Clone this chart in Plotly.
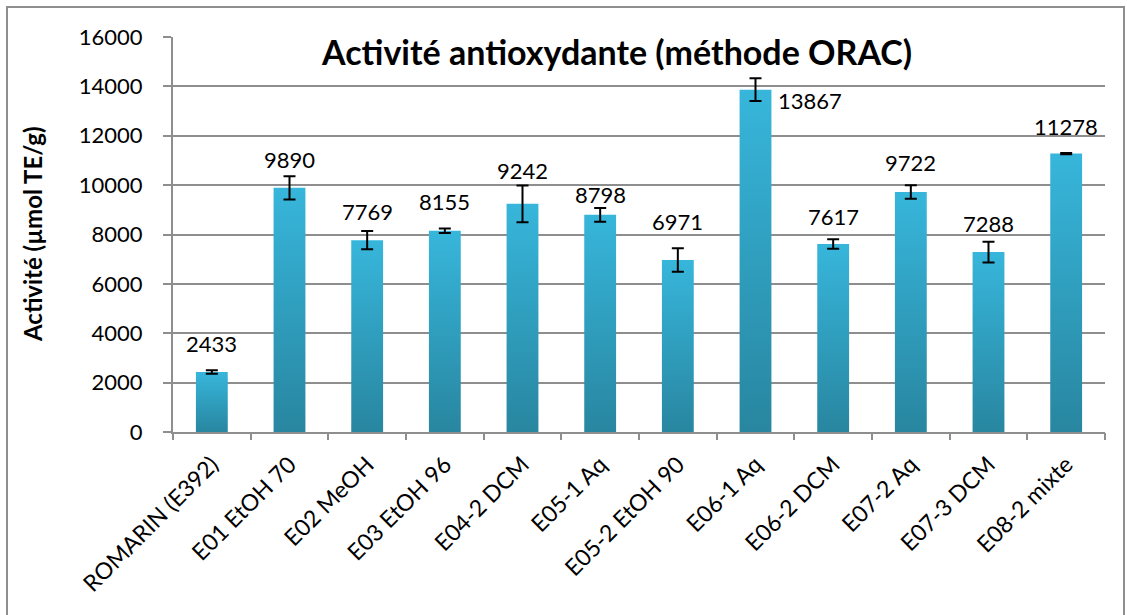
import plotly.graph_objects as go

# ORAC antioxidant activity per extract
categories = ["ROMARIN (E392)", "E01 EtOH 70", "E02 MeOH", "E03 EtOH 96", "E04-2 DCM",
              "E05-1 Aq", "E05-2 EtOH 90", "E06-1 Aq", "E06-2 DCM", "E07-2 Aq",
              "E07-3 DCM", "E08-2 mixte"]
activity = [2433, 9890, 7769, 8155, 9242, 8798, 6971, 13867, 7617, 9722, 7288, 11278]
errors = [70, 470, 370, 90, 745, 280, 475, 460, 190, 270, 420, 25]
y_ticks = [0, 2000, 4000, 6000, 8000, 10000, 12000, 14000, 16000]

FONT = "Lato"
GRID = "#8E8E8E"
BAR_W = 0.41

# plot-area geometry in pixels
L, R, T, B = 173, 1105, 37, 432
PW, PH = R - L, B - T

# vertical gap (px) between each bar top and the centre of its value label
label_gap = [28, 28, 29, 29, 33, 20, 38, -11, 27, 29, 29, 27]

fig = go.Figure()

# bars as gradient-filled polygons
for i, v in enumerate(activity):
    x0, x1 = i - BAR_W / 2, i + BAR_W / 2
    fig.add_trace(go.Scatter(
        x=[x0, x1, x1, x0, x0], y=[0, 0, v, v, 0],
        mode="lines", line=dict(width=0), fill="toself",
        fillgradient=dict(type="vertical",
                          colorscale=[[0, "#2886A0"], [1, "#37B6DB"]]),
        hoverinfo="skip", showlegend=False,
    ))

# error bars
fig.add_trace(go.Scatter(
    x=list(range(len(categories))), y=activity, mode="markers",
    marker=dict(size=1, opacity=0),
    error_y=dict(type="data", array=errors, visible=True,
                 color="black", thickness=2, width=6),
    showlegend=False,
))

# value labels
annotations = []
for i, v in enumerate(activity):
    side = i == activity.index(max(activity))
    annotations.append(dict(
        x=i + BAR_W / 2 if side else i, y=v, xref="x", yref="y",
        text=str(v), showarrow=False,
        xanchor="left" if side else "center", yanchor="middle",
        xshift=5 if side else 0, yshift=label_gap[i],
        font=dict(family=FONT, size=22, color="black")))

annotations.append(dict(x=(616 - L) / PW, y=(B - 52) / PH, xref="paper", yref="paper",
                        text="<b>Activité antioxydante (méthode ORAC)</b>",
                        showarrow=False, xanchor="center", yanchor="middle",
                        font=dict(family=FONT, size=34, color="black")))

annotations.append(dict(x=-(L - 32) / PW, y=(B - 234) / PH, xref="paper", yref="paper",
                        text="<b>Activité (µmol TE/g)</b>", textangle=-90, showarrow=False,
                        xanchor="center", yanchor="middle",
                        font=dict(family=FONT, size=24, color="black")))

fig.update_layout(
    width=1127, height=615,
    margin=dict(l=L, r=1127 - R, t=T, b=615 - B),
    plot_bgcolor="white", paper_bgcolor="white",
    annotations=annotations,
    xaxis=dict(range=[-0.5, len(categories) - 0.5], tickvals=list(range(len(categories))),
               ticktext=categories, tickangle=-45, ticks="", showgrid=False,
               ticklabelstandoff=8,
               zeroline=False, showline=True, linecolor=GRID, linewidth=2,
               tickfont=dict(family=FONT, size=23, color="black")),
    xaxis2=dict(overlaying="x", range=[-0.5, len(categories) - 0.5],
                tickvals=[k - 0.5 for k in range(len(categories) + 1)],
                ticks="outside", ticklen=7, tickwidth=2, tickcolor=GRID,
                showticklabels=False, showgrid=False, zeroline=False, side="bottom",
                anchor="y"),
    yaxis=dict(range=[0, 16000], tickvals=y_ticks, ticktext=[str(t) for t in y_ticks],
               ticks="outside", ticklen=8, ticklabelstandoff=16,
               tickwidth=2, tickcolor=GRID, showgrid=True, gridcolor=GRID, gridwidth=2,
               zeroline=False, showline=True, linecolor=GRID, linewidth=2,
               tickfont=dict(family=FONT, size=22, color="black")),
    shapes=[dict(type="rect", xref="paper", yref="paper",
                 x0=-(L - 7) / PW, x1=(1124 - L) / PW,
                 y0=-(620 - B) / PH, y1=(B - 7) / PH,
                 line=dict(color="#8E8E8E", width=2), layer="below")],
)
# dummy trace to activate the tick-only axis
fig.add_trace(go.Scatter(x=[0], y=[0], xaxis="x2", mode="markers",
                         marker=dict(opacity=0), hoverinfo="skip", showlegend=False))

fig.write_html("out.html")
